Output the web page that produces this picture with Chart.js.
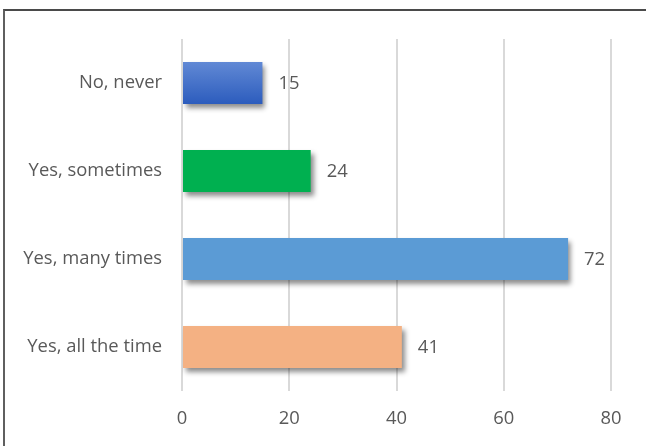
<!DOCTYPE html>
<html>
<head>
<meta charset="utf-8">
<script src="https://cdn.jsdelivr.net/npm/chart.js@4"></script>
<style>
  html, body { margin: 0; padding: 0; background: #fff; }
  #wrap { position: relative; width: 646px; height: 446px; overflow: hidden; }
  #frame { position: absolute; left: 3px; top: 9px; width: 700px; height: 500px;
           border-left: 2px solid #5f5f5f; border-top: 2px solid #4a4a4a; }
  #chart { position: absolute; left: 0; top: 0; }
</style>
</head>
<body>
<div id="wrap">
  <div id="frame"></div>
  <canvas id="chart" width="646" height="446"></canvas>
</div>
<script>
const answers = ['No, never', 'Yes, sometimes', 'Yes, many times', 'Yes, all the time'];
const counts = [15, 24, 72, 41];
const xTicks = [0, 20, 40, 60, 80];

const barColors = ['#3d6cc8', '#00b050', '#5b9bd5', '#f4b183'];
const textColor = '#595959';
const font = { family: 'Open Sans', size: 18.4 };

// first bar gets a soft top-to-bottom blue gradient
function barFill(c) {
    const i = c.dataIndex;
    if (i !== 0) return barColors[i];
    const y = c.chart.scales && c.chart.scales.y;
    if (!y || y.top === undefined) return barColors[0];
    const mid = y.getPixelForValue(0);
    const g = c.chart.ctx.createLinearGradient(0, mid - 21, 0, mid + 21);
    g.addColorStop(0, '#6189d5');
    g.addColorStop(1, '#2c5cbd');
    return g;
}

const barShadowAndLabels = {
    id: 'barShadowAndLabels',
    beforeDatasetsDraw(chart) {
        const ctx = chart.ctx;
        ctx.save();
        ctx.shadowColor = 'rgba(0, 0, 0, 0.45)';
        ctx.shadowBlur = 5;
        ctx.shadowOffsetX = 3;
        ctx.shadowOffsetY = 4;
    },
    afterDatasetsDraw(chart) {
        const ctx = chart.ctx;
        ctx.restore();
        ctx.save();
        ctx.font = font.size + 'px ' + font.family;
        ctx.fillStyle = textColor;
        ctx.textAlign = 'left';
        ctx.textBaseline = 'middle';
        chart.getDatasetMeta(0).data.forEach((bar, i) => {
            ctx.fillText(String(counts[i]), bar.x + 16, bar.y + 1);
        });
        ctx.restore();
    }
};

new Chart(document.getElementById('chart'), {
    type: 'bar',
    data: {
        labels: answers,
        datasets: [{
            data: counts,
            backgroundColor: barFill,
            borderWidth: 0,
            categoryPercentage: 1,
            barPercentage: 0.477
        }]
    },
    options: {
        indexAxis: 'y',
        responsive: false,
        animation: false,
        layout: { padding: { top: 39, right: 35, bottom: 0, left: 0 } },
        plugins: {
            legend: { display: false },
            tooltip: { enabled: false }
        },
        scales: {
            x: {
                min: 0,
                max: 80,
                afterBuildTicks(axis) { axis.ticks = xTicks.map(v => ({ value: v })); },
                ticks: { color: textColor, font: font, padding: 17 },
                grid: { color: '#d9d9d9', lineWidth: 2, drawTicks: false },
                border: { display: false },
                afterFit(axis) { axis.height = 55; }
            },
            y: {
                ticks: { color: textColor, font: font, padding: 20 },
                grid: { display: false, drawTicks: false },
                border: { display: false },
                afterFit(axis) { axis.width = 182; }
            }
        }
    },
    plugins: [barShadowAndLabels]
});
</script>
</body>
</html>
